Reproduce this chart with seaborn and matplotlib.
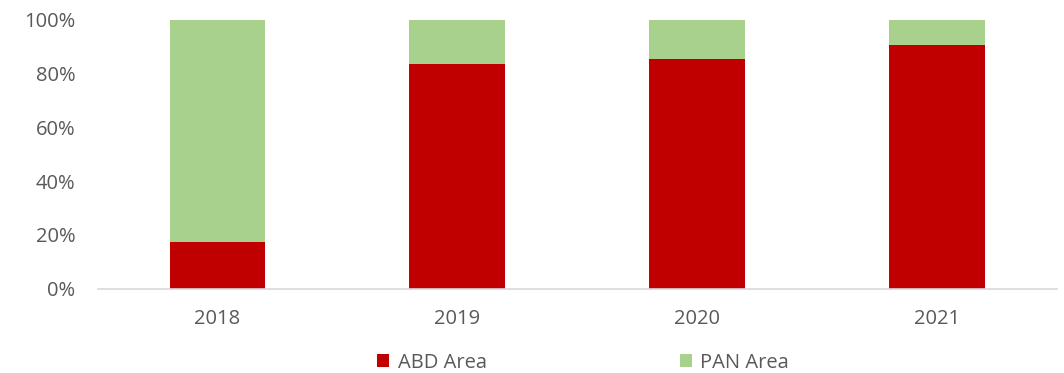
import matplotlib
matplotlib.use("Agg")
import matplotlib.pyplot as plt
import seaborn as sns
import pandas as pd
from matplotlib.patches import Patch

years = ["2018", "2019", "2020", "2021"]
abd_share = [17.3, 83.6, 85.5, 90.7]
pan_share = [82.7, 16.4, 14.5, 9.3]
series_names = ["ABD Area", "PAN Area"]
series_colors = ["#c00000", "#a9d18e"]
y_ticks = [0, 20, 40, 60, 80, 100]

sns.set_theme(style="white")
plt.rcParams["font.family"] = ["Open Sans", "DejaVu Sans"]

df = pd.DataFrame({"year": years, "abd": abd_share, "pan": pan_share})
df["total"] = df["abd"] + df["pan"]

fig = plt.figure(figsize=(10.64, 3.73), dpi=100)
ax = fig.add_axes([0.0917, 0.2265, 0.9015, 0.72])

# stacked bars: full stack in green, ABD segment drawn over it in red
sns.barplot(data=df, x="year", y="total", color=series_colors[1], width=0.4,
            saturation=1, ax=ax, linewidth=0)
sns.barplot(data=df, x="year", y="abd", color=series_colors[0], width=0.4,
            saturation=1, ax=ax, linewidth=0)

ax.set_xlim(-0.5, len(years) - 0.5)
ax.set_ylim(0, 100)
ax.set_yticks(y_ticks)
ax.set_yticklabels([f"{t}%" for t in y_ticks])
ax.set_xlabel("")
ax.set_ylabel("")
for s in ["top", "right", "left"]:
    ax.spines[s].set_visible(False)
ax.spines["bottom"].set_color("#d9d9d9")
ax.spines["bottom"].set_linewidth(1.2)
ax.tick_params(axis="both", length=0, labelsize=14.5, labelcolor="#595959")
ax.tick_params(axis="y", pad=16)
ax.tick_params(axis="x", pad=15)

handles = [Patch(facecolor=c, edgecolor="none") for c in series_colors]
fig.legend(handles, series_names, loc="center", bbox_to_anchor=(0.548, 0.028),
           ncol=2, frameon=False, fontsize=14.5, labelcolor="#595959",
           handlelength=0.6, handleheight=0.6, handletextpad=0.4,
           columnspacing=9.6)

fig.savefig("out.png", dpi=100)
